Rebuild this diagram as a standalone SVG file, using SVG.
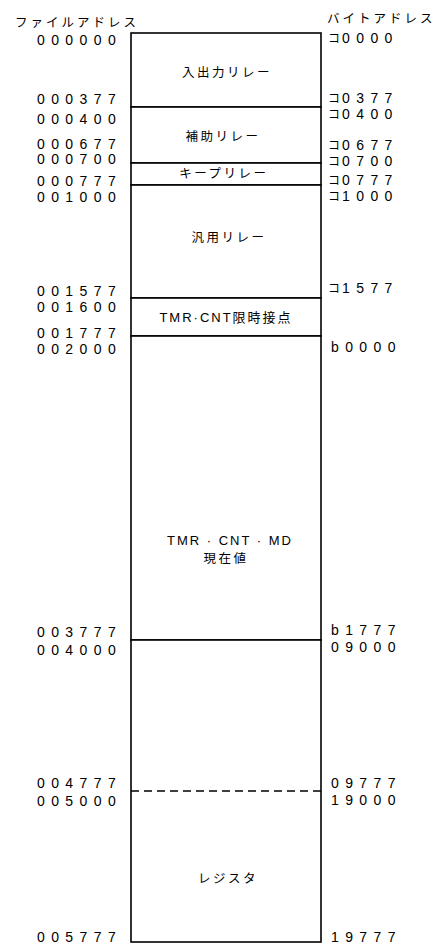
<svg xmlns="http://www.w3.org/2000/svg" width="438" height="944" viewBox="0 0 438 944">
<style>
.seg{fill:#fff;stroke:#000;stroke-width:1.6}
.addr{font-family:"Liberation Sans",Arial,sans-serif;font-size:14px;letter-spacing:6.4px;fill:#000}
.ko{font-family:"Noto Sans CJK JP",sans-serif;font-size:12px;letter-spacing:2px}
.jp{font-family:"Noto Sans CJK JP","Noto Sans",sans-serif;font-size:12.5px;fill:#000;text-anchor:middle;letter-spacing:2.5px}
.hd{font-family:"Noto Sans CJK JP","Noto Sans",sans-serif;font-size:12.5px;fill:#000;letter-spacing:3px}
.lat{font-family:"Liberation Sans",Arial,"Noto Sans CJK JP",sans-serif;font-size:13px;fill:#000;text-anchor:middle;letter-spacing:2px}
</style>
<rect width="438" height="944" fill="#fff"/>
<text class="hd" x="15" y="27">ファイルアドレス</text>
<text class="hd" x="327" y="23" letter-spacing="2px">バイトアドレス</text>

<g id="io-relay"><rect class="seg" x="131" y="33" width="190" height="74"/><text class="jp" x="227" y="77">入出力リレー</text></g>
<g id="aux-relay"><rect class="seg" x="131" y="107" width="190" height="56"/><text class="jp" x="223" y="141">補助リレー</text></g>
<g id="keep-relay"><rect class="seg" x="131" y="163" width="190" height="22"/><text class="jp" x="224" y="178">キープリレー</text></g>
<g id="general-relay"><rect class="seg" x="131" y="185" width="190" height="113"/><text class="jp" x="229" y="242">汎用リレー</text></g>
<g id="tmr-contact"><rect class="seg" x="131" y="298" width="190" height="38"/><text class="lat" x="226" y="322" letter-spacing="1.5px">TMR·CNT限時接点</text></g>
<g id="current-value"><rect class="seg" x="131" y="336" width="190" height="304"/><text class="lat" x="230" y="545" font-size="14px">TMR · CNT · MD</text><text class="jp" x="226" y="563" letter-spacing="1px">現在値</text></g>
<g id="register"><rect class="seg" x="131" y="640" width="190" height="302"/><line x1="131" y1="791" x2="321" y2="791" stroke="#000" stroke-width="1.6" stroke-dasharray="8,5"/><text class="jp" x="228" y="883">レジスタ</text></g>

<g id="file-addresses">
<text class="addr" x="37" y="45">000000</text>
<text class="addr" x="37" y="104">000377</text>
<text class="addr" x="37" y="124">000400</text>
<text class="addr" x="37" y="149">000677</text>
<text class="addr" x="37" y="164">000700</text>
<text class="addr" x="37" y="186">000777</text>
<text class="addr" x="37" y="202">001000</text>
<text class="addr" x="37" y="296">001577</text>
<text class="addr" x="37" y="312">001600</text>
<text class="addr" x="37" y="338">001777</text>
<text class="addr" x="37" y="354">002000</text>
<text class="addr" x="37" y="637">003777</text>
<text class="addr" x="37" y="655">004000</text>
<text class="addr" x="37" y="788">004777</text>
<text class="addr" x="37" y="806">005000</text>
<text class="addr" x="37" y="942">005777</text>
</g>
<g id="byte-addresses">
<text class="addr" x="328" y="43"><tspan class="ko">コ</tspan>0000</text>
<text class="addr" x="328" y="103"><tspan class="ko">コ</tspan>0377</text>
<text class="addr" x="328" y="119"><tspan class="ko">コ</tspan>0400</text>
<text class="addr" x="328" y="150"><tspan class="ko">コ</tspan>0677</text>
<text class="addr" x="328" y="166"><tspan class="ko">コ</tspan>0700</text>
<text class="addr" x="328" y="185"><tspan class="ko">コ</tspan>0777</text>
<text class="addr" x="328" y="201"><tspan class="ko">コ</tspan>1000</text>
<text class="addr" x="328" y="293"><tspan class="ko">コ</tspan>1577</text>
<text class="addr" x="331" y="352">b0000</text>
<text class="addr" x="331" y="635">b1777</text>
<text class="addr" x="331" y="652">09000</text>
<text class="addr" x="331" y="788">09777</text>
<text class="addr" x="331" y="805">19000</text>
<text class="addr" x="331" y="942">19777</text>
</g>
</svg>
